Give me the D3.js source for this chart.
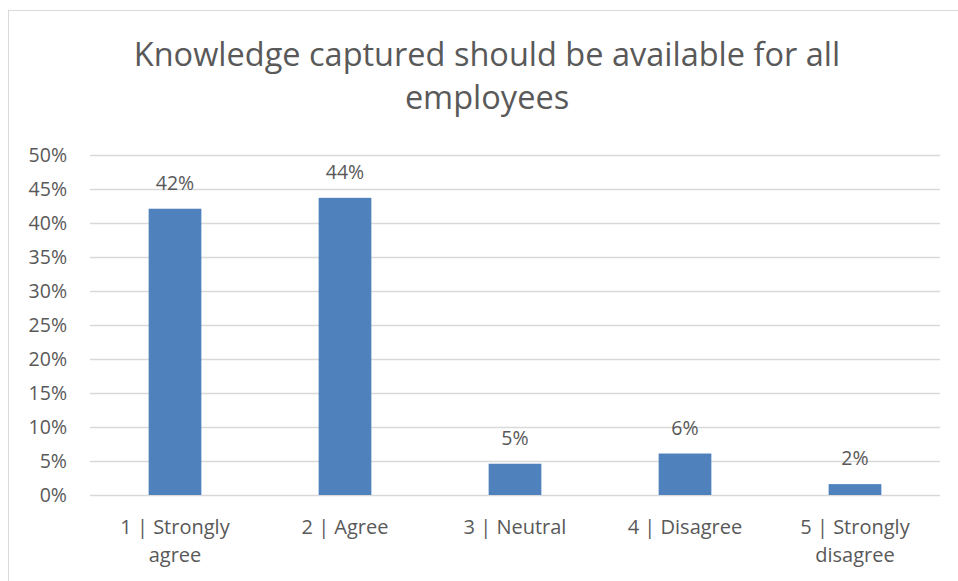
<!DOCTYPE html>
<html>
<head>
<meta charset="utf-8">
<script src="https://cdn.jsdelivr.net/npm/d3@7"></script>
<style>
  html, body { margin: 0; padding: 0; background: #fff; }
  svg { display: block; }
  text { font-family: "Open Sans", Lato, sans-serif; fill: #595959; }
</style>
</head>
<body>
<svg id="chart" width="958" height="581"></svg>
<script>
// Survey responses: share of respondents per answer
const categories = ["1 | Strongly agree", "2 | Agree", "3 | Neutral", "4 | Disagree", "5 | Strongly disagree"];
const categoryLines = [["1 | Strongly", "agree"], ["2 | Agree"], ["3 | Neutral"], ["4 | Disagree"], ["5 | Strongly", "disagree"]];
const shares = [0.421, 0.437, 0.046, 0.061, 0.016];
const yTicks = [0, 0.05, 0.10, 0.15, 0.20, 0.25, 0.30, 0.35, 0.40, 0.45, 0.50];
const titleLines = ["Knowledge captured should be available for all", "employees"];

const svg = d3.select("#chart");
const W = 958, H = 581;
const plot = { left: 90, right: 940, top: 155, bottom: 495 };

// Outer chart border
svg.append("rect")
  .attr("x", 8.5).attr("y", 10.5)
  .attr("width", W + 10).attr("height", H)
  .attr("fill", "none").attr("stroke", "#d9d9d9");

const x = d3.scaleBand()
  .domain(categories)
  .range([plot.left, plot.right])
  .paddingInner(0.69)
  .paddingOuter(0.345);

const y = d3.scaleLinear()
  .domain([0, 0.5])
  .range([plot.bottom, plot.top]);

// Title
svg.append("text")
  .attr("x", 487).attr("y", 66)
  .attr("text-anchor", "middle")
  .style("font-size", "32.5px")
  .selectAll("tspan")
  .data(titleLines)
  .join("tspan")
  .attr("x", 487)
  .attr("dy", (d, i) => i === 0 ? 0 : 43)
  .text(d => d);

// Gridlines and y tick labels
const yAxis = d3.axisLeft(y)
  .tickValues(yTicks)
  .tickFormat(d3.format(".0%"))
  .tickSize(-(plot.right - plot.left))
  .tickPadding(23);

const gy = svg.append("g")
  .attr("transform", `translate(${plot.left},0)`)
  .call(yAxis);
gy.select(".domain").remove();
gy.selectAll(".tick line").attr("stroke", "#d9d9d9").attr("stroke-width", 1.3);
gy.selectAll(".tick text")
  .style("font-size", "19.5px")
  .style("font-family", "'Open Sans', sans-serif")
  .attr("fill", "#595959");

// Bars
svg.append("g")
  .selectAll("rect")
  .data(shares)
  .join("rect")
  .attr("x", (d, i) => x(categories[i]))
  .attr("y", d => y(d))
  .attr("width", x.bandwidth())
  .attr("height", d => y(0) - y(d))
  .attr("fill", "#4f81bd");

// Value labels
svg.append("g")
  .selectAll("text")
  .data(shares)
  .join("text")
  .attr("x", (d, i) => x(categories[i]) + x.bandwidth() / 2)
  .attr("y", d => y(d) - 19)
  .attr("text-anchor", "middle")
  .style("font-size", "19.5px")
  .text(d => d3.format(".0%")(d));

// Category labels
const gx = svg.append("g")
  .selectAll("text")
  .data(categories)
  .join("text")
  .attr("x", d => x(d) + x.bandwidth() / 2)
  .attr("y", 534)
  .attr("text-anchor", "middle")
  .style("font-size", "20px");
gx.selectAll("tspan")
  .data((d, i) => categoryLines[i])
  .join("tspan")
  .attr("x", function () { return d3.select(this.parentNode).attr("x"); })
  .attr("dy", (d, i) => i === 0 ? 0 : 28)
  .text(d => d);
</script>
</body>
</html>
